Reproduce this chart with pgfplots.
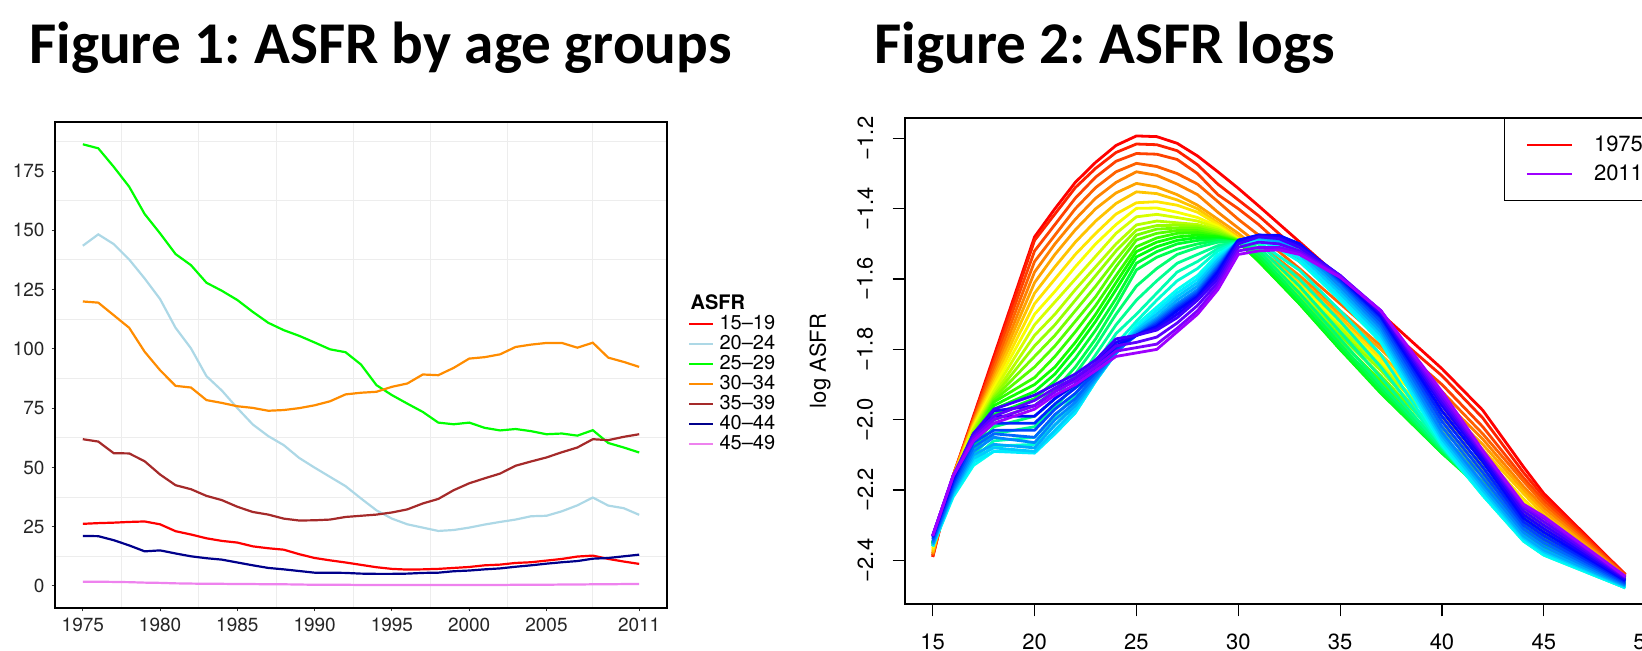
\documentclass[border=0pt]{standalone}
\usepackage{pgfplots}
\pgfplotsset{compat=1.18}
\usepackage{pgfplotstable}
\usepackage{fontspec}
\setmainfont{TeX Gyre Heros}
\newfontfamily\titlefont{Carlito}

\definecolor{c1519}{HTML}{FF0000}
\definecolor{c2024}{HTML}{ADD8E6}
\definecolor{c2529}{HTML}{00FF00}
\definecolor{c3034}{HTML}{FF8C00}
\definecolor{c3539}{HTML}{A52A2A}
\definecolor{c4044}{HTML}{00008B}
\definecolor{c4549}{HTML}{EE82EE}

% rainbow colours, one per year 1975..2011
\definecolor{c1}{hsb}{0,1,1}
\definecolor{c2}{hsb}{0.02139,1,1}
\definecolor{c3}{hsb}{0.04278,1,1}
\definecolor{c4}{hsb}{0.06417,1,1}
\definecolor{c5}{hsb}{0.08556,1,1}
\definecolor{c6}{hsb}{0.10694,1,1}
\definecolor{c7}{hsb}{0.12833,1,1}
\definecolor{c8}{hsb}{0.14972,1,1}
\definecolor{c9}{hsb}{0.17111,1,1}
\definecolor{c10}{hsb}{0.1925,1,1}
\definecolor{c11}{hsb}{0.21389,1,1}
\definecolor{c12}{hsb}{0.23528,1,1}
\definecolor{c13}{hsb}{0.25667,1,1}
\definecolor{c14}{hsb}{0.27806,1,1}
\definecolor{c15}{hsb}{0.29944,1,1}
\definecolor{c16}{hsb}{0.32083,1,1}
\definecolor{c17}{hsb}{0.34222,1,1}
\definecolor{c18}{hsb}{0.36361,1,1}
\definecolor{c19}{hsb}{0.385,1,1}
\definecolor{c20}{hsb}{0.40639,1,1}
\definecolor{c21}{hsb}{0.42778,1,1}
\definecolor{c22}{hsb}{0.44917,1,1}
\definecolor{c23}{hsb}{0.47056,1,1}
\definecolor{c24}{hsb}{0.49194,1,1}
\definecolor{c25}{hsb}{0.51333,1,1}
\definecolor{c26}{hsb}{0.53472,1,1}
\definecolor{c27}{hsb}{0.55611,1,1}
\definecolor{c28}{hsb}{0.5775,1,1}
\definecolor{c29}{hsb}{0.59889,1,1}
\definecolor{c30}{hsb}{0.62028,1,1}
\definecolor{c31}{hsb}{0.64167,1,1}
\definecolor{c32}{hsb}{0.66306,1,1}
\definecolor{c33}{hsb}{0.68444,1,1}
\definecolor{c34}{hsb}{0.70583,1,1}
\definecolor{c35}{hsb}{0.72722,1,1}
\definecolor{c36}{hsb}{0.74861,1,1}
\definecolor{c37}{hsb}{0.77,1,1}

\begin{document}%
% ASFR per 1000 women by age group
\pgfplotstableread{
year a b c d e f g
1975 26.2 143.5 186.3 120.0 61.9 21.1 1.8
1976 26.5 148.3 184.6 119.5 60.9 21.0 1.8
1977 26.7 144.2 176.8 114.2 56.0 19.3 1.7
1978 27.0 137.7 168.4 108.9 55.9 17.1 1.6
1979 27.2 129.7 156.9 98.8 52.6 14.6 1.4
1980 26.0 121.0 148.7 91.0 47.0 15.0 1.3
1981 23.1 108.9 140.0 84.4 42.5 13.7 1.1
1982 21.7 100.2 135.3 83.7 40.8 12.5 1.0
1983 20.1 88.5 127.9 78.4 38.0 11.7 0.9
1984 19.0 82.4 124.5 77.2 36.2 11.1 0.9
1985 18.3 75.0 120.6 75.8 33.4 9.9 0.8
1986 16.7 68.1 115.6 75.1 31.2 8.7 0.8
1987 15.9 63.2 111.0 73.9 30.1 7.6 0.7
1988 15.3 59.4 107.9 74.2 28.4 7.0 0.7
1989 13.4 54.0 105.5 75.0 27.6 6.3 0.6
1990 11.8 49.9 102.7 76.2 27.7 5.6 0.5
1991 10.8 46.0 99.8 77.9 28.0 5.6 0.5
1992 9.9 42.1 98.6 80.8 29.1 5.5 0.5
1993 8.9 36.9 93.4 81.5 29.6 5.2 0.4
1994 7.9 31.9 84.7 81.9 30.1 5.1 0.4
1995 7.2 28.4 80.5 84.0 31.0 5.1 0.4
1996 6.9 26.0 76.9 85.4 32.3 5.2 0.4
1997 7.0 24.6 73.4 89.2 34.8 5.5 0.4
1998 7.2 23.2 68.9 88.9 36.7 5.6 0.4
1999 7.6 23.6 68.2 92.0 40.4 6.2 0.4
2000 8.0 24.6 68.9 95.9 43.3 6.5 0.4
2001 8.7 25.9 66.7 96.5 45.4 7.0 0.4
2002 9.0 27.0 65.6 97.7 47.4 7.4 0.4
2003 9.7 28.0 66.2 100.8 50.7 8.1 0.5
2004 10.0 29.4 65.3 101.8 52.5 8.7 0.5
2005 10.7 29.6 64.0 102.5 54.2 9.4 0.5
2006 11.4 31.5 64.3 102.5 56.4 10.0 0.6
2007 12.4 34.0 63.4 100.5 58.4 10.5 0.6
2008 12.8 37.3 65.7 102.6 61.9 11.5 0.7
2009 11.4 33.9 60.3 96.3 61.5 11.8 0.7
2010 10.3 32.8 58.4 94.5 62.9 12.5 0.8
2011 9.3 30.0 56.3 92.4 64.0 13.2 0.8
}\asfr%
% log ASFR: rows = age, columns 1..37 = years 1975..2011
\pgfplotstableread[header=false]{
15 -2.39 -2.39 -2.385 -2.385 -2.38  -2.38 -2.375 -2.37 -2.365 -2.36  -2.36 -2.355 -2.355 -2.35 -2.35  -2.35 -2.35 -2.35 -2.35 -2.35  -2.355 -2.355 -2.36 -2.36 -2.36  -2.355 -2.355 -2.35 -2.345 -2.34  -2.335 -2.33 -2.33 -2.33 -2.33  -2.33 -2.33
16 -2.16 -2.16 -2.16 -2.16 -2.16  -2.16 -2.162 -2.164 -2.166 -2.168  -2.17 -2.172 -2.174 -2.176 -2.178  -2.18 -2.183 -2.185 -2.188 -2.19  -2.198 -2.205 -2.213 -2.22 -2.215  -2.21 -2.205 -2.2 -2.193 -2.185  -2.178 -2.17 -2.165 -2.16 -2.16  -2.16 -2.16
17 -1.99 -1.994 -1.998 -2.002 -2.006  -2.01 -2.014 -2.018 -2.022 -2.026  -2.03 -2.036 -2.042 -2.048 -2.054  -2.06 -2.068 -2.075 -2.083 -2.09  -2.1 -2.11 -2.12 -2.13 -2.12  -2.11 -2.1 -2.09 -2.078 -2.065  -2.053 -2.04 -2.04 -2.04 -2.047  -2.053 -2.06
18 -1.82 -1.83 -1.84 -1.855 -1.87  -1.88 -1.89 -1.9 -1.91 -1.92  -1.93 -1.935 -1.94 -1.945 -1.95  -1.96 -1.97 -1.985 -2.0 -2.02  -2.04 -2.06 -2.075 -2.09 -2.09  -2.08 -2.07 -2.05 -2.04 -2.03  -2.01 -1.99 -1.975 -1.97 -1.99  -2.0 -2.01
20 -1.48 -1.49 -1.52 -1.55 -1.58  -1.61 -1.64 -1.67 -1.7 -1.73  -1.76 -1.79 -1.82 -1.85 -1.88  -1.9 -1.92 -1.94 -1.96 -1.99  -2.02 -2.05 -2.07 -2.09 -2.095  -2.09 -2.08 -2.065 -2.05 -2.03  -2.01 -1.99 -1.96 -1.93 -1.945  -1.96 -1.97
21 -1.4 -1.415 -1.445 -1.475 -1.5  -1.53 -1.565 -1.6 -1.635 -1.665  -1.7 -1.73 -1.76 -1.79 -1.82  -1.85 -1.87 -1.89 -1.915 -1.94  -1.965 -1.99 -2.015 -2.04 -2.04  -2.03 -2.015 -2.0 -1.985 -1.97  -1.955 -1.94 -1.92 -1.9 -1.91  -1.92 -1.93
22 -1.325 -1.34 -1.37 -1.4 -1.43  -1.46 -1.495 -1.53 -1.565 -1.6  -1.63 -1.66 -1.69 -1.72 -1.75  -1.78 -1.8 -1.825 -1.85 -1.87  -1.9 -1.93 -1.955 -1.98 -1.98  -1.97 -1.96 -1.95 -1.94 -1.925  -1.91 -1.9 -1.885 -1.87 -1.88  -1.89 -1.9
23 -1.268 -1.285 -1.31 -1.34 -1.37  -1.4 -1.435 -1.47 -1.5 -1.535  -1.565 -1.59 -1.62 -1.65 -1.675  -1.7 -1.72 -1.745 -1.77 -1.79  -1.815 -1.84 -1.865 -1.89 -1.89  -1.888 -1.885 -1.88 -1.873 -1.865  -1.858 -1.85 -1.84 -1.83 -1.84  -1.85 -1.86
24 -1.22 -1.24 -1.265 -1.295 -1.325  -1.355 -1.385 -1.415 -1.445 -1.47  -1.5 -1.52 -1.545 -1.565 -1.59  -1.61 -1.63 -1.655 -1.675 -1.7  -1.73 -1.755 -1.785 -1.81 -1.81  -1.81 -1.81 -1.81 -1.805 -1.8  -1.795 -1.79 -1.78 -1.77 -1.79  -1.805 -1.82
25 -1.193 -1.216 -1.243 -1.271 -1.295  -1.328 -1.352 -1.383 -1.399 -1.423  -1.446 -1.461 -1.475 -1.489 -1.508  -1.522 -1.537 -1.555 -1.574 -1.62  -1.66 -1.7 -1.72 -1.73 -1.74  -1.745 -1.75 -1.755 -1.76 -1.76  -1.76 -1.76 -1.76 -1.76 -1.78  -1.795 -1.81
26 -1.195 -1.218 -1.245 -1.28 -1.305  -1.338 -1.357 -1.38 -1.398 -1.416  -1.435 -1.448 -1.458 -1.47 -1.483  -1.495 -1.508 -1.522 -1.538 -1.57  -1.605 -1.64 -1.66 -1.68 -1.69  -1.7 -1.71 -1.715 -1.72 -1.725  -1.73 -1.735 -1.74 -1.745 -1.765  -1.785 -1.8
27 -1.214 -1.235 -1.26 -1.3 -1.33  -1.36 -1.375 -1.39 -1.41 -1.425  -1.44 -1.447 -1.455 -1.462 -1.47  -1.48 -1.49 -1.5 -1.515 -1.53  -1.555 -1.58 -1.605 -1.63 -1.64  -1.65 -1.66 -1.67 -1.675 -1.68  -1.685 -1.69 -1.7 -1.71 -1.725  -1.74 -1.75
28 -1.25 -1.275 -1.3 -1.33 -1.36  -1.39 -1.4 -1.41 -1.425 -1.435  -1.445 -1.45 -1.455 -1.462 -1.468  -1.475 -1.482 -1.49 -1.5 -1.51  -1.53 -1.55 -1.57 -1.59 -1.6  -1.61 -1.62 -1.63 -1.635 -1.64  -1.645 -1.65 -1.655 -1.66 -1.675  -1.69 -1.7
29 -1.295 -1.33 -1.36 -1.38 -1.41  -1.43 -1.44 -1.445 -1.45 -1.455  -1.46 -1.465 -1.47 -1.475 -1.478  -1.48 -1.484 -1.488 -1.49 -1.495  -1.505 -1.513 -1.52 -1.53 -1.538  -1.545 -1.553 -1.56 -1.565 -1.57  -1.575 -1.58 -1.59 -1.6 -1.61  -1.62 -1.63
30 -1.342 -1.375 -1.4 -1.43 -1.455  -1.47 -1.48 -1.485 -1.487 -1.488  -1.49 -1.49 -1.49 -1.49 -1.492  -1.494 -1.495 -1.495 -1.495 -1.495  -1.495 -1.495 -1.495 -1.495 -1.494  -1.493 -1.492 -1.49 -1.49 -1.49  -1.49 -1.49 -1.495 -1.5 -1.51  -1.52 -1.53
31 -1.392 -1.42 -1.445 -1.475 -1.5  -1.516 -1.52 -1.525 -1.53 -1.535  -1.54 -1.542 -1.545 -1.547 -1.549  -1.55 -1.548 -1.54 -1.53 -1.52  -1.51 -1.5 -1.495 -1.49 -1.487  -1.485 -1.482 -1.48 -1.478 -1.476  -1.475 -1.475 -1.478 -1.48 -1.495  -1.51 -1.52
32 -1.443 -1.471 -1.497 -1.522 -1.545  -1.558 -1.565 -1.57 -1.575 -1.582  -1.59 -1.595 -1.6 -1.603 -1.607  -1.61 -1.609 -1.602 -1.592 -1.58  -1.565 -1.55 -1.535 -1.515 -1.508  -1.5 -1.493 -1.487 -1.483 -1.48  -1.477 -1.476 -1.48 -1.485 -1.5  -1.51 -1.517
33 -1.494 -1.522 -1.55 -1.57 -1.59  -1.6 -1.61 -1.615 -1.62 -1.63  -1.64 -1.648 -1.655 -1.66 -1.665  -1.67 -1.67 -1.665 -1.655 -1.64  -1.62 -1.6 -1.575 -1.55 -1.54  -1.53 -1.52 -1.51 -1.505 -1.5  -1.5 -1.5 -1.505 -1.51 -1.52  -1.525 -1.53
35 -1.597 -1.625 -1.65 -1.67 -1.69  -1.7 -1.71 -1.72 -1.73 -1.735  -1.74 -1.75 -1.76 -1.775 -1.79  -1.8 -1.8 -1.795 -1.785 -1.77  -1.75 -1.72 -1.69 -1.66 -1.65  -1.64 -1.63 -1.62 -1.61 -1.605  -1.6 -1.595 -1.59 -1.59 -1.59  -1.593 -1.595
37 -1.698 -1.725 -1.75 -1.77 -1.79  -1.8 -1.815 -1.825 -1.835 -1.845  -1.85 -1.86 -1.875 -1.89 -1.905  -1.92 -1.925 -1.92 -1.91 -1.9  -1.88 -1.85 -1.815 -1.78 -1.77  -1.76 -1.75 -1.74 -1.73 -1.72  -1.71 -1.705 -1.7 -1.695 -1.69  -1.69 -1.69
40 -1.855 -1.875 -1.9 -1.92 -1.94  -1.96 -1.975 -1.99 -2.0 -2.02  -2.03 -2.05 -2.06 -2.075 -2.085  -2.09 -2.095 -2.095 -2.09 -2.085  -2.08 -2.075 -2.075 -2.07 -2.065  -2.055 -2.045 -2.035 -2.02 -2.005  -1.99 -1.975 -1.96 -1.95 -1.94  -1.93 -1.92
42 -1.973 -1.995 -2.02 -2.04 -2.055  -2.07 -2.085 -2.1 -2.11 -2.125  -2.14 -2.15 -2.16 -2.175 -2.185  -2.19 -2.195 -2.2 -2.2 -2.205  -2.21 -2.21 -2.215 -2.215 -2.21  -2.2 -2.19 -2.18 -2.165 -2.15  -2.135 -2.12 -2.11 -2.1 -2.095  -2.09 -2.087
44 -2.134 -2.15 -2.165 -2.175 -2.19  -2.2 -2.21 -2.225 -2.235 -2.25  -2.26 -2.27 -2.28 -2.29 -2.3  -2.31 -2.315 -2.32 -2.325 -2.33  -2.335 -2.34 -2.345 -2.345 -2.34  -2.335 -2.33 -2.32 -2.31 -2.3  -2.29 -2.28 -2.27 -2.26 -2.25  -2.245 -2.24
45 -2.21 -2.22 -2.23 -2.24 -2.25  -2.26 -2.27 -2.28 -2.29 -2.3  -2.31 -2.318 -2.325 -2.335 -2.342  -2.35 -2.355 -2.36 -2.365 -2.37  -2.375 -2.38 -2.385 -2.385 -2.38  -2.375 -2.37 -2.36 -2.35 -2.34  -2.33 -2.32 -2.31 -2.3 -2.29  -2.28 -2.275
49 -2.44 -2.44 -2.442 -2.444 -2.446  -2.448 -2.45 -2.452 -2.454 -2.456  -2.458 -2.46 -2.462 -2.465 -2.468  -2.47 -2.472 -2.474 -2.475 -2.476  -2.477 -2.478 -2.478 -2.478 -2.476  -2.474 -2.472 -2.47 -2.467 -2.464  -2.46 -2.457 -2.454 -2.45 -2.448  -2.446 -2.445
}\logasfr%
\begin{tikzpicture}
\node[anchor=base west, inner sep=0pt] at (14.5pt,-32pt)
  {\titlefont\bfseries\frenchspacing\fontsize{29.6}{30}\selectfont Figure 1: ASFR by age groups};
\node[anchor=base west, inner sep=0pt] at (437pt,-32pt)
  {\titlefont\bfseries\frenchspacing\fontsize{29.6}{30}\selectfont Figure 2: ASFR logs};

% Figure 1
\begin{axis}[
    scale only axis, width=306pt, height=243pt,
    at={(27.5pt,-304pt)}, anchor=south west,
    xmin=1973.2, xmax=2012.8, ymin=-9.3, ymax=195.7,
    xtick={1975,1980,1985,1990,1995,2000,2005,2011},
    ytick={0,25,50,75,100,125,150,175},
    minor xtick={1977.5,1982.5,1987.5,1992.5,1997.5,2002.5,2008},
    minor ytick={12.5,37.5,62.5,87.5,112.5,137.5,162.5,187.5},
    grid=minor, minor grid style={black!7, line width=0.5pt},
    xtick pos=left, ytick pos=left,
    tick align=outside, major tick length=1.7pt, minor tick length=0pt,
    tick style={black!80, line width=0.5pt},
    axis line style={black, line width=0.6pt},
    tick label style={font=\fontsize{9.5}{9.5}\selectfont, text=black!85},
    /pgf/number format/1000 sep={},
    /pgf/number format/assume math mode=true,
    legend style={at={(1.0343,0.646)}, anchor=north west, draw=none, fill=none,
      inner xsep=0pt, inner ysep=0pt, row sep=1.45pt, column sep=2.5pt,
      font=\fontsize{10}{10}\selectfont, nodes={inner sep=0pt}},
    legend cell align=left,
    legend image code/.code={\draw[#1] (0pt,0pt) -- (12pt,0pt);},
]
\addlegendimage{empty legend}
\addlegendentry{\hspace*{-14.5pt}\textbf{ASFR}\rule[-1.85pt]{0pt}{1.85pt}}
\addplot[c1519, line width=1.1pt] table[x=year, y=a] {\asfr};
\addlegendentry{15--19}
\addplot[c2024, line width=1.1pt] table[x=year, y=b] {\asfr};
\addlegendentry{20--24}
\addplot[c2529, line width=1.1pt] table[x=year, y=c] {\asfr};
\addlegendentry{25--29}
\addplot[c3034, line width=1.1pt] table[x=year, y=d] {\asfr};
\addlegendentry{30--34}
\addplot[c3539, line width=1.1pt] table[x=year, y=e] {\asfr};
\addlegendentry{35--39}
\addplot[c4044, line width=1.1pt] table[x=year, y=f] {\asfr};
\addlegendentry{40--44}
\addplot[c4549, line width=1.1pt] table[x=year, y=g] {\asfr};
\addlegendentry{45--49}
\end{axis}

% Figure 2
\begin{axis}[
    scale only axis, width=374pt, height=243pt,
    at={(452.5pt,-302pt)}, anchor=south west,
    xmin=13.64, xmax=50.36, ymin=-2.524, ymax=-1.142,
    xtick={15,20,25,30,35,40,45,50},
    ytick={-2.4,-2.2,-2.0,-1.8,-1.6,-1.4,-1.2},
    yticklabels={−2.4,−2.2,−2.0,−1.8,−1.6,−1.4,−1.2},
    /pgf/number format/assume math mode=true,
    xtick pos=left, ytick pos=left,
    tick align=outside, major tick length=6.2pt,
    tick style={black, line width=0.6pt},
    axis line style={black, line width=0.6pt},
    tick label style={font=\fontsize{11}{11}\selectfont},
    yticklabel style={rotate=90, anchor=south},
    yticklabel shift=6.25pt, xticklabel shift=5pt,
    ylabel={log ASFR},
    ylabel style={font=\fontsize{11}{11}\selectfont,
      at={(axis description cs:-0.1136,0.5)}, anchor=center},
    legend style={at={(0.8008,1)}, anchor=north west, draw=black,
      line width=0.6pt, fill=white, inner xsep=10.5pt, inner ysep=8.6pt,
      row sep=5.2pt, column sep=10.5pt,
      font=\fontsize{11}{11}\selectfont, nodes={inner sep=0pt}},
    legend cell align=left,
    legend image code/.code={\draw[#1] (0pt,0pt) -- (22.5pt,0pt);},
]
\pgfplotsinvokeforeach{1,...,37}{
  \addplot[c#1, line width=1.4pt, line join=round, forget plot]
    table[x index=0, y index=#1] {\logasfr};
}
\addlegendimage{c1, line width=1.2pt}
\addlegendentry{1975}
\addlegendimage{c37, line width=1.2pt}
\addlegendentry{2011}
\end{axis}

\pgfresetboundingbox
\path[use as bounding box] (0,0) rectangle (821pt,-325.5pt);
\end{tikzpicture}%
\end{document}
